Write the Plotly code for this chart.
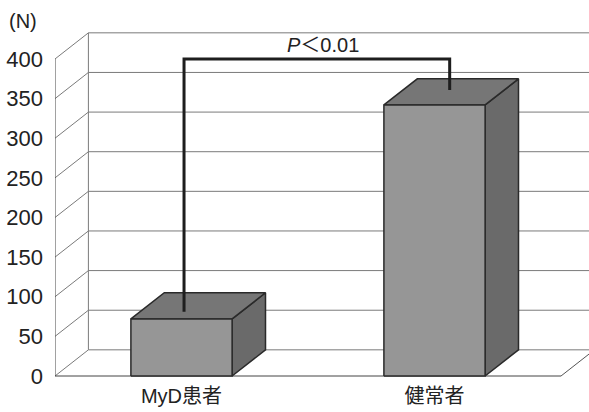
import plotly.graph_objects as go

# Data
categories = ["MyD患者", "健常者"]
values = [72, 342]
y_ticks = [0, 50, 100, 150, 200, 250, 300, 350, 400]
p_label = "<i>P</i>＜0.01"
unit_label = "(N)"

# 3D styling (in data units)
x_pos = [1, 2]
bar_w = 0.40
depth_x = 0.132
depth_y = 33
x_left = 0.5
x_right_front = 2.5
x_max = 2.62
y_top = 400

FRONT = "#969696"
TOP = "#767676"
SIDE = "#6a6a6a"
EDGE = "#2a2a2a"
GRID = "#7a7a7a"

fig = go.Figure()


def line(xs, ys, color=GRID, width=1):
    fig.add_trace(go.Scatter(x=xs, y=ys, mode="lines",
                             line=dict(color=color, width=width),
                             hoverinfo="skip", showlegend=False))


def poly(xs, ys, fill):
    fig.add_trace(go.Scatter(x=xs + [xs[0]], y=ys + [ys[0]], mode="lines",
                             fill="toself", fillcolor=fill,
                             line=dict(color=EDGE, width=1.5),
                             hoverinfo="skip", showlegend=False))


# Back wall gridlines and side-wall diagonals
for t in y_ticks:
    line([x_left + depth_x, x_max + 0.1], [t + depth_y, t + depth_y])
    line([x_left, x_left + depth_x], [t, t + depth_y])
# Back wall left edge
line([x_left + depth_x, x_left + depth_x], [depth_y, y_top + depth_y])
# Front axis line
line([x_left, x_left], [0, y_top], color="#444444", width=1)
# Floor front edge and right edge
line([x_left, x_right_front], [0, 0], color="#444444", width=1)
line([x_right_front, x_right_front + depth_x], [0, depth_y], color="#555555", width=1)

# 3D bars
for xc, v in zip(x_pos, values):
    l, r = xc - bar_w / 2, xc + bar_w / 2
    poly([r, r + depth_x, r + depth_x, r], [0, depth_y, v + depth_y, v], SIDE)
    poly([l, r, r + depth_x, l + depth_x], [v, v, v + depth_y, v + depth_y], TOP)
    poly([l, r, r, l], [0, 0, v, v], FRONT)

# Significance bracket
bx_left, bx_right = 1.01, 2.06
line([bx_left, bx_left, bx_right, bx_right],
     [values[0] + 9, 400, 400, values[1] + 19], color="#1e1e1e", width=3)

fig.add_annotation(x=1.56, y=418, xref="x", yref="y", text=p_label,
                   showarrow=False, font=dict(size=20, color="#222222"))
fig.add_annotation(x=-0.0899, y=448, xref="paper", yref="y", xanchor="left",
                   text=unit_label, showarrow=False,
                   font=dict(size=20, color="#222222"))

fig.update_layout(
    width=589, height=412,
    margin=dict(l=55, r=0, t=10, b=32),
    paper_bgcolor="white", plot_bgcolor="white",
    font=dict(family="Liberation Sans, Arial, Noto Sans CJK JP, sans-serif",
              size=20, color="#222222"),
    xaxis=dict(range=[0.5, 0.5 + 534 / 253], tickvals=x_pos, ticktext=categories,
               showgrid=False, zeroline=False, showline=False, ticks="",
               ticklabelstandoff=2, fixedrange=True,
               tickfont=dict(size=20)),
    yaxis=dict(range=[-5.05, 461.8], tickvals=y_ticks,
               showgrid=False, zeroline=False, showline=False, ticks="",
               ticklabelstandoff=11, fixedrange=True,
               tickfont=dict(size=22)),
)

fig.write_html("out.html")
